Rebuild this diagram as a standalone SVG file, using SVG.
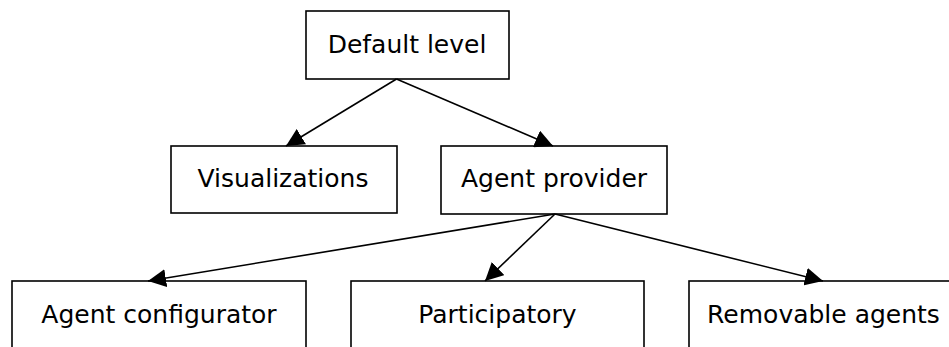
<svg xmlns="http://www.w3.org/2000/svg" width="949" height="347" viewBox="0 0 949 347">
<style>
.box{fill:#fff;stroke:#000;stroke-width:1.6}
.lbl{font-family:"DejaVu Sans",Verdana,sans-serif;font-size:25px;fill:#000;text-anchor:middle}
.edge{stroke:#000;stroke-width:1.6;fill:none;marker-end:url(#ah)}
</style>
<defs>
<marker id="ah" markerWidth="18" markerHeight="18" refX="18" refY="9" orient="auto" markerUnits="userSpaceOnUse">
<path d="M0,0 L18,9 L0,18 Z" fill="#000"/>
</marker>
</defs>
<g id="default-level">
<rect class="box" x="306" y="11" width="203" height="68"/>
<text class="lbl" x="407" y="53">Default level</text>
</g>
<g id="visualizations">
<rect class="box" x="171" y="146" width="226" height="67"/>
<text class="lbl" x="283" y="187">Visualizations</text>
</g>
<g id="agent-provider">
<rect class="box" x="441" y="146" width="226" height="68"/>
<text class="lbl" x="554" y="187">Agent provider</text>
</g>
<g id="agent-configurator">
<rect class="box" x="12" y="281" width="294" height="80"/>
<text class="lbl" x="159" y="323">Agent configurator</text>
</g>
<g id="participatory">
<rect class="box" x="351" y="281" width="293" height="80"/>
<text class="lbl" x="497.5" y="323">Participatory</text>
</g>
<g id="removable-agents">
<rect class="box" x="689" y="281" width="294" height="80"/>
<text class="lbl" x="823.5" y="323">Removable agents</text>
</g>
<g id="connectors">
<line class="edge" x1="396.5" y1="79" x2="286" y2="146"/>
<line class="edge" x1="396.5" y1="79" x2="553" y2="146"/>
<line class="edge" x1="555" y1="214" x2="148" y2="281"/>
<line class="edge" x1="555" y1="214" x2="485" y2="281"/>
<line class="edge" x1="555" y1="214" x2="823" y2="281"/>
</g>
</svg>
